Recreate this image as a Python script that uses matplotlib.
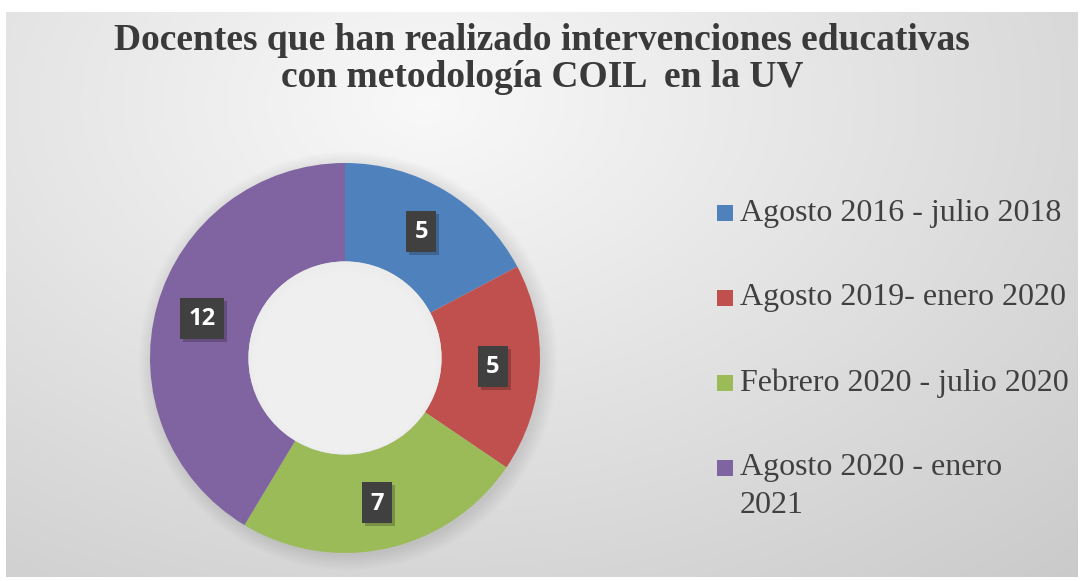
import matplotlib.pyplot as plt
from matplotlib.patches import Rectangle
import numpy as np

# datos del gráfico
categorias = ["Agosto 2016 - julio 2018", "Agosto 2019- enero 2020",
              "Febrero 2020 - julio 2020", "Agosto 2020 - enero\n2021"]
docentes = [5, 5, 7, 12]
colores = ["#4f81bd", "#c0504d", "#9bbb59", "#8064a2"]
titulo = "Docentes que han realizado intervenciones educativas\ncon metodología COIL  en la UV"

W, H = 1084, 581
fig = plt.figure(figsize=(W / 100, H / 100), dpi=100)
fig.patch.set_facecolor("white")

# fondo con degradado radial (estilo Excel)
bg = fig.add_axes([6 / W, 4 / H, 1072 / W, 565 / H])
yy, xx = np.mgrid[0:565, 0:1072]
d = np.sqrt(((xx - 420) / 900.0) ** 2 + ((yy - 90) / 600.0) ** 2)
val = np.clip(0.975 - 0.17 * d, 0, 1)
bg.imshow(np.dstack([val, val, val]), aspect="auto", interpolation="bilinear")
bg.axis("off")

# dona
ax = fig.add_axes([(345 - 215) / W, (H - 358 - 215) / H, 430 / W, 430 / H])
ax.axis("off")

# sombra suave alrededor
for i in range(8):
    circ = plt.Circle((3, -3), 195 + 2 * i, color="black", alpha=0.01, lw=0)
    ax.add_patch(circ)

R = 195
wedges, _ = ax.pie(docentes, colors=colores, startangle=90, counterclock=False,
                   radius=R, wedgeprops=dict(width=R * 0.505, edgecolor="none"))

# agujero central
ax.add_patch(plt.Circle((0, 0), 96.6, color="#ececec", lw=0))
for i in range(5):
    ax.add_patch(plt.Circle((0, -2 - i), 94 - i * 2, color="#f2f2f2", alpha=0.3, lw=0))

# etiquetas de datos
total = sum(docentes)
ang0 = 90.0
r_lab = 148
for v in docentes:
    ang = ang0 - v / total * 360 / 2
    ang0 -= v / total * 360
    x = r_lab * np.cos(np.radians(ang))
    y = r_lab * np.sin(np.radians(ang))
    bw = 30 if v < 10 else 44
    bh = 41
    ax.add_patch(Rectangle((x - bw / 2 + 3, y - bh / 2 - 3), bw, bh,
                           color="black", alpha=0.22, lw=0))
    ax.add_patch(Rectangle((x - bw / 2, y - bh / 2), bw, bh,
                           facecolor="#404040", edgecolor="none"))
    ax.text(x, y - 1, str(v), color="white", fontsize=17, fontweight="bold",
            family="Open Sans", ha="center", va="center")

ax.set_xlim(-215, 215)
ax.set_ylim(-215, 215)
ax.set_aspect("equal")

# título
fig.text(542 / W, 1 - 59 / H, titulo, ha="center", va="center",
         fontsize=27, fontweight="bold", family="Liberation Serif",
         color="#3a3a3a", linespacing=1.1)

# leyenda
ley_y = [213, 298, 383, 468]
for cat, col, yp in zip(categorias, colores, ley_y):
    fig.patches.append(Rectangle((717 / W, 1 - (yp + 8) / H), 16 / W, 16 / H,
                                 transform=fig.transFigure, facecolor=col,
                                 edgecolor="none", figure=fig))
    if "\n" in cat:
        fig.text(740 / W, 1 - (yp + 18.5) / H, cat, ha="left", va="center",
                 fontsize=23, family="Liberation Serif", color="#404040",
                 linespacing=1.4)
    else:
        fig.text(740 / W, 1 - yp / H, cat, ha="left", va="center",
                 fontsize=23, family="Liberation Serif", color="#404040")

fig.savefig("out.png", dpi=100)
